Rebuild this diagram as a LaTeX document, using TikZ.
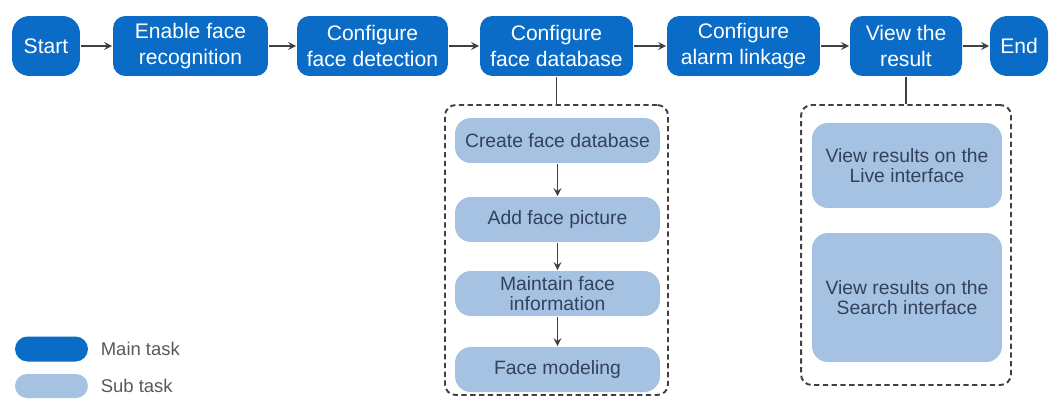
\documentclass[tikz,border=0pt]{standalone}
\usepackage{fontspec}
\setmainfont{Liberation Sans}
\usetikzlibrary{positioning}
\definecolor{mainblue}{RGB}{10,108,198}
\definecolor{subblue}{RGB}{166,194,226}
\definecolor{subtext}{RGB}{50,66,90}
\definecolor{linegray}{RGB}{64,64,64}

\begin{document}
\begin{tikzpicture}[x=0.02cm,y=-0.02cm,line width=1pt,>=stealth,
  maintask/.style={fill=mainblue,text=white,rounded corners=7pt,minimum height=1.2cm,
    inner sep=1pt,align=center,font=\fontsize{12}{14.5}\selectfont},
  endtask/.style={maintask,rounded corners=10pt},
  subtask/.style={fill=subblue,text=subtext,rounded corners=9pt,minimum width=4.1cm,
    minimum height=0.9cm,inner sep=1pt,align=center,font=\fontsize{11}{11.5}\selectfont},
  groupbox/.style={draw=linegray,dash pattern=on 3pt off 2pt,rounded corners=6pt,line width=1.1pt},
  keytext/.style={text=black!65,font=\fontsize{10.5}{12}\selectfont}]
  \useasboundingbox (0,0) rectangle (1054,399);

  % main flow
  \node[endtask,minimum width=1.36cm] (start) at (46,46) {Start};
  \node[maintask,minimum width=3.1cm] (enable) at (190.5,46) {Enable face\\recognition};
  \node[maintask,minimum width=3.02cm] (detect) at (372.5,46) {Configure\\face detection};
  \node[maintask,minimum width=3.06cm] (database) at (556.5,46) {Configure\\face database};
  \node[maintask,minimum width=3.06cm] (alarm) at (743.5,46) {Configure\\alarm linkage};
  \node[maintask,minimum width=2.24cm] (result) at (906,46) {View the\\result};
  \node[endtask,minimum width=1.16cm] (end) at (1019,46) {End};
  \foreach \a/\b in {start/enable,enable/detect,detect/database,database/alarm,alarm/result,result/end}
    \draw[->,linegray] (\a) -- (\b);

  % face database sub tasks
  \node[groupbox,minimum width=4.46cm,minimum height=5.8cm] (dbgroup) at (556.5,250) {};
  \node[subtask] (create) at (557.5,140.5) {Create face database};
  \node[subtask] (addpic) at (557.5,219.5) {Add face picture};
  \node[subtask] (maintain) at (557.5,293.5) {Maintain face\\information};
  \node[subtask] (modeling) at (557.5,369.5) {Face modeling};
  \draw[linegray] (database) -- (dbgroup);
  \foreach \a/\b in {create/addpic,addpic/maintain,maintain/modeling}
    \draw[->,linegray] (\a) -- (\b);

  % result sub tasks
  \node[groupbox,minimum width=4.2cm,minimum height=5.6cm] (resgroup) at (906,245) {};
  \node[subtask,minimum width=3.8cm,minimum height=1.7cm] (live) at (907,165.5) {View results on the\\Live interface};
  \node[subtask,minimum width=3.8cm,minimum height=2.58cm] (search) at (907,297.5) {View results on the\\Search interface};
  \draw[linegray] (result) -- (resgroup);

  % legend
  \node[fill=mainblue,rounded corners=0.25cm,minimum width=1.46cm,minimum height=0.5cm] (keymain) at (51.5,349) {};
  \node[keytext,right=3pt of keymain] {Main task};
  \node[fill=subblue,rounded corners=0.24cm,minimum width=1.46cm,minimum height=0.48cm] (keysub) at (51.5,386) {};
  \node[keytext,right=3pt of keysub] {Sub task};
\end{tikzpicture}
\end{document}
